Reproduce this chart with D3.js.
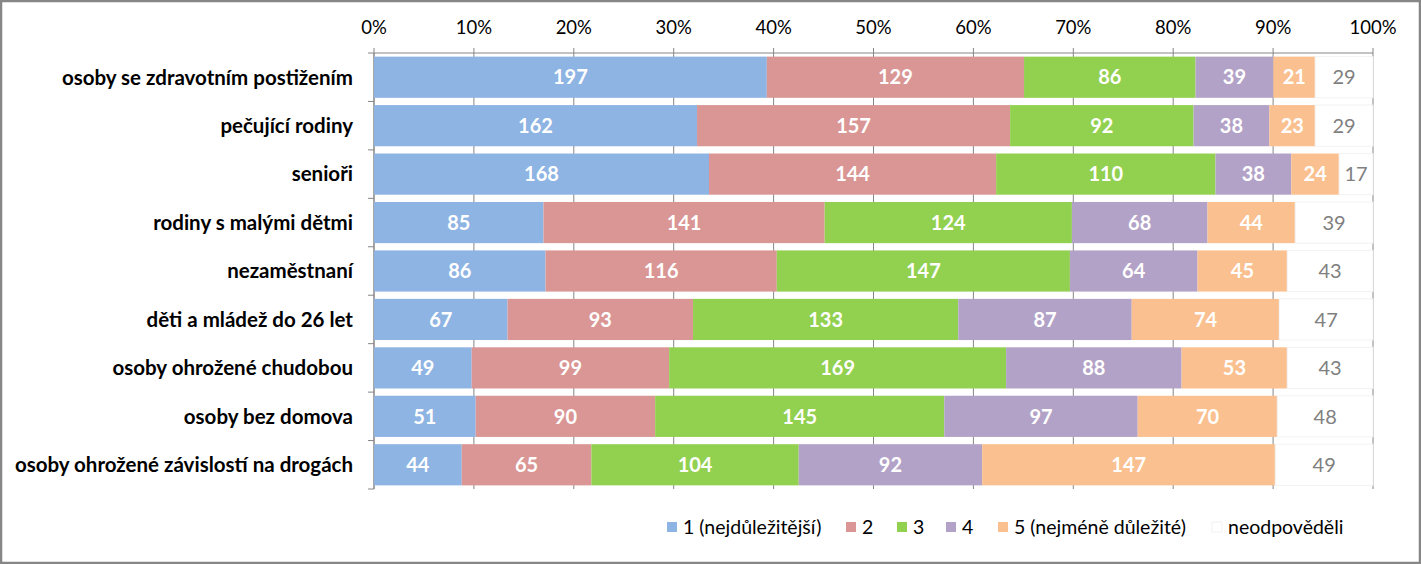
<!DOCTYPE html>
<html>
<head>
<meta charset="utf-8">
<script src="https://cdn.jsdelivr.net/npm/d3@7"></script>
<style>
  body { margin: 0; background: #fff; }
  svg { display: block; font-family: Lato, "Open Sans", sans-serif; }
</style>
</head>
<body>
<svg width="1421" height="564"></svg>
<script>
"use strict";

var categories = [
    "osoby se zdravotním postižením",
    "pečující rodiny",
    "senioři",
    "rodiny s malými dětmi",
    "nezaměstnaní",
    "děti a mládež do 26 let",
    "osoby ohrožené chudobou",
    "osoby bez domova",
    "osoby ohrožené závislostí na drogách"
];

var seriesNames = ["1 (nejdůležitější)", "2", "3", "4", "5 (nejméně důležité)", "neodpověděli"];
var seriesColors = ["#8EB4E3", "#D99694", "#92D050", "#B3A2C7", "#FAC090", "#FFFFFF"];

var rank1 = [197, 162, 168, 85, 86, 67, 49, 51, 44];
var rank2 = [129, 157, 144, 141, 116, 93, 99, 90, 65];
var rank3 = [86, 92, 110, 124, 147, 133, 169, 145, 104];
var rank4 = [39, 38, 38, 68, 64, 87, 88, 97, 92];
var rank5 = [21, 23, 24, 44, 45, 74, 53, 70, 147];
var noAnswer = [29, 29, 17, 39, 43, 47, 43, 48, 49];

var tickValues = [0, 0.1, 0.2, 0.3, 0.4, 0.5, 0.6, 0.7, 0.8, 0.9, 1];

var series = [rank1, rank2, rank3, rank4, rank5, noAnswer];

var rows = categories.map(function (c, i) {
    var row = { name: c };
    var total = d3.sum(series, function (s) { return s[i]; });
    series.forEach(function (s, k) {
        row["s" + k] = s[i] / total;
        row["v" + k] = s[i];
    });
    return row;
});

var keys = series.map(function (s, k) { return "s" + k; });
var stacked = d3.stack().keys(keys)(rows);

var svg = d3.select("svg");
var W = 1421, H = 564;

// outer border
svg.append("rect")
    .attr("x", 1).attr("y", 1)
    .attr("width", W - 2).attr("height", H - 2)
    .attr("fill", "#fff")
    .attr("stroke", "#868686")
    .attr("stroke-width", 2.5);

var plotLeft = 374, plotRight = 1373, plotTop = 53, plotBottom = 489;

var x = d3.scaleLinear().domain([0, 1]).range([plotLeft, plotRight]);
var y = d3.scaleBand().domain(categories).range([plotTop, plotBottom]).paddingInner(0.15).paddingOuter(0.075);

// vertical gridlines
svg.append("g")
    .selectAll("line")
    .data(tickValues)
    .enter()
    .append("line")
    .attr("x1", function (d) { return x(d); })
    .attr("x2", function (d) { return x(d); })
    .attr("y1", plotTop - 5)
    .attr("y2", plotBottom)
    .attr("stroke", "#868686")
    .attr("stroke-width", 1);

// top axis line
svg.append("line")
    .attr("x1", plotLeft).attr("x2", plotRight)
    .attr("y1", plotTop).attr("y2", plotTop)
    .attr("stroke", "#868686");

// left axis line and ticks
svg.append("line")
    .attr("x1", plotLeft).attr("x2", plotLeft)
    .attr("y1", plotTop).attr("y2", plotBottom)
    .attr("stroke", "#868686");

var bandEdges = categories.map(function (c) { return y(c) - y.step() * y.paddingInner() / 2; });
bandEdges.push(plotBottom);
svg.append("g")
    .selectAll("line")
    .data(bandEdges)
    .enter()
    .append("line")
    .attr("x1", plotLeft - 6).attr("x2", plotLeft)
    .attr("y1", function (d) { return d; })
    .attr("y2", function (d) { return d; })
    .attr("stroke", "#868686");

// tick labels
svg.append("g")
    .selectAll("text")
    .data(tickValues)
    .enter()
    .append("text")
    .attr("x", function (d) { return x(d); })
    .attr("y", 34)
    .attr("text-anchor", "middle")
    .attr("font-size", 18.5)
    .attr("fill", "#000")
    .text(function (d) { return d3.format(".0%")(d); });

// bars
var groups = svg.append("g")
    .selectAll("g")
    .data(stacked)
    .enter()
    .append("g")
    .attr("fill", function (d, k) { return seriesColors[k]; });

groups.selectAll("rect")
    .data(function (d) { return d; })
    .enter()
    .append("rect")
    .attr("x", function (d) { return x(d[0]); })
    .attr("y", function (d) { return y(d.data.name); })
    .attr("width", function (d) { return x(d[1]) - x(d[0]); })
    .attr("height", y.bandwidth())
    .attr("stroke", function (d, i, n) {
        return d3.select(n[i].parentNode).datum().index === 5 ? "#F2F2F2" : "none";
    });

// value labels
groups.selectAll("text")
    .data(function (d) { return d.map(function (p) { p.k = d.index; return p; }); })
    .enter()
    .append("text")
    .attr("x", function (d) { return (x(d[0]) + x(d[1])) / 2; })
    .attr("y", function (d) { return y(d.data.name) + y.bandwidth() / 2; })
    .attr("dy", "0.36em")
    .attr("text-anchor", "middle")
    .attr("font-size", 20)
    .attr("font-weight", function (d) { return d.k === 5 ? "normal" : "bold"; })
    .attr("fill", function (d) { return d.k === 5 ? "#808080" : "#fff"; })
    .text(function (d) { return d.data["v" + d.k]; });

// category labels
svg.append("g")
    .selectAll("text")
    .data(categories)
    .enter()
    .append("text")
    .attr("x", 353)
    .attr("y", function (d) { return y(d) + y.bandwidth() / 2; })
    .attr("dy", "0.36em")
    .attr("text-anchor", "end")
    .attr("font-size", 20.5)
    .attr("font-weight", "bold")
    .attr("fill", "#000")
    .text(function (d) { return d; });

// legend
var legendX = [667, 846, 897, 946, 998, 1212];
var legend = svg.append("g")
    .selectAll("g")
    .data(seriesNames)
    .enter()
    .append("g")
    .attr("transform", function (d, k) { return "translate(" + legendX[k] + ",527)"; });

legend.append("rect")
    .attr("x", 0).attr("y", -5)
    .attr("width", 10).attr("height", 10)
    .attr("fill", function (d, k) { return seriesColors[k]; })
    .attr("stroke", function (d, k) { return k === 5 ? "#F2F2F2" : "none"; });

legend.append("text")
    .attr("x", 16)
    .attr("y", 0)
    .attr("dy", "0.36em")
    .attr("font-size", 19.5)
    .attr("fill", "#000")
    .text(function (d) { return d; });
</script>
</body>
</html>
